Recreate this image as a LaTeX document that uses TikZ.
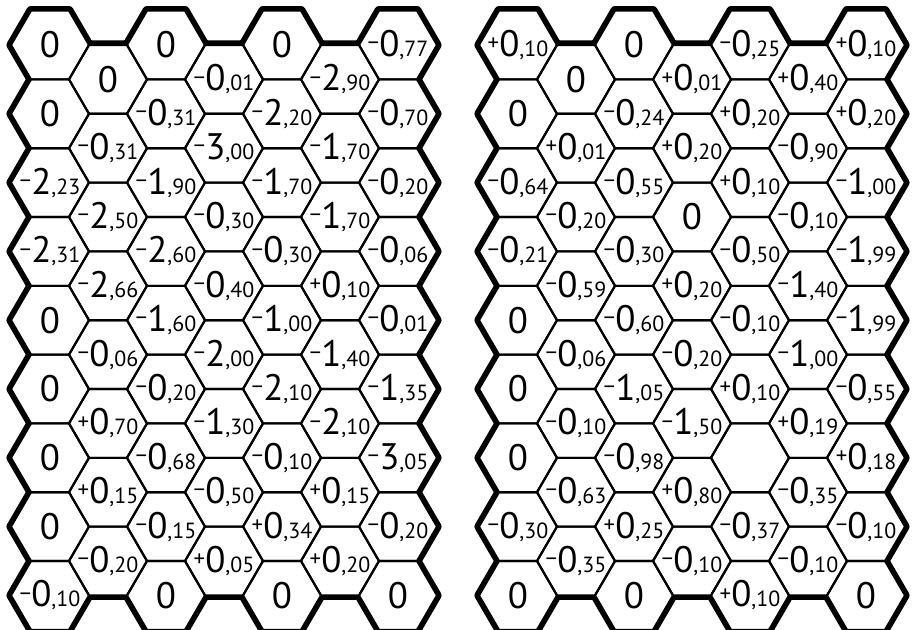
\documentclass[tikz,border=0pt]{standalone}
\usepackage{fontspec}
\setmainfont{PT Sans}
\usetikzlibrary{positioning}

\newcommand\nbig{\fontsize{21}{23}\selectfont}
\newcommand\nsml{\fontsize{12.5}{14}\selectfont}
\newcommand\nsgn{\fontsize{13}{14}\selectfont}
% sign, integer digit, decimals
\newcommand\nv[3]{\raisebox{3.3pt}{\nsgn\if-#1−\else#1\fi}{\nbig#2}{\nsml,#3}}
\newcommand\nz{{\nbig 0}}

% one grid of hexagon cells, 7 columns
\newcommand\hexgrid[2]{%
  \foreach \c in {0,...,6}{
    \pgfmathtruncatemacro\last{8-mod(\c,2)}
    \foreach \r in {0,...,\last}
      \path[#2, shift={({#1+58*\c},{45+34.4*(2*\r+mod(\c,2))})}]
        (-39,0) -- (-19,-34.4) -- (19,-34.4) -- (39,0) -- (19,34.4) -- (-19,34.4) -- cycle;
  }}
% values of one column
\newcommand\gridcol[4]{%
  \foreach \t [count=\k from 0] in {#4}
    \node[val] (#1-\k) at (#2,{#3+68.8*\k}) {\t};}

\begin{document}
\begin{tikzpicture}[
  x=0.02cm,y=-0.02cm,
  rim/.style={draw=black, line width=5.2pt, line join=round},
  blank/.style={fill=white},
  edge/.style={draw=black, line width=1.2pt, line join=round},
  val/.style={inner sep=0pt, font=\nbig}
]
\useasboundingbox (0,0) rectangle (916,629);
\fill[white] (0,0) rectangle (916,629);

% thick outline, then cover the inner halves, then thin edges
\hexgrid{50}{rim}
\hexgrid{518}{rim}
\hexgrid{50}{blank}
\hexgrid{518}{blank}
\hexgrid{50}{edge}
\hexgrid{518}{edge}

% left grid
\gridcol{l0}{50}{45}{\nz, \nz, \nv-2{23}, \nv-2{31}, \nz, \nz, \nz, \nz, \nv-0{10}}
\gridcol{l1}{108}{79.4}{\nz, \nv-0{31}, \nv-2{50}, \nv-2{66}, \nv-0{06}, \nv+0{70}, \nv+0{15}, \nv-0{20}}
\gridcol{l2}{166}{45}{\nz, \nv-0{31}, \nv-1{90}, \nv-2{60}, \nv-1{60}, \nv-0{20}, \nv-0{68}, \nv-0{15}, \nz}
\gridcol{l3}{224}{79.4}{\nv-0{01}, \nv-3{00}, \nv-0{30}, \nv-0{40}, \nv-2{00}, \nv-1{30}, \nv-0{50}, \nv+0{05}}
\gridcol{l4}{282}{45}{\nz, \nv-2{20}, \nv-1{70}, \nv-0{30}, \nv-1{00}, \nv-2{10}, \nv-0{10}, \nv+0{34}, \nz}
\gridcol{l5}{340}{79.4}{\nv-2{90}, \nv-1{70}, \nv-1{70}, \nv+0{10}, \nv-1{40}, \nv-2{10}, \nv+0{15}, \nv+0{20}}
\gridcol{l6}{398}{45}{\nv-0{77}, \nv-0{70}, \nv-0{20}, \nv-0{06}, \nv-0{01}, \nv-1{35}, \nv-3{05}, \nv-0{20}, \nz}

% right grid
\gridcol{r0}{518}{45}{\nv+0{10}, \nz, \nv-0{64}, \nv-0{21}, \nz, \nz, \nz, \nv-0{30}, \nz}
\gridcol{r1}{576}{79.4}{\nz, \nv+0{01}, \nv-0{20}, \nv-0{59}, \nv-0{06}, \nv-0{10}, \nv-0{63}, \nv-0{35}}
\gridcol{r2}{634}{45}{\nz, \nv-0{24}, \nv-0{55}, \nv-0{30}, \nv-0{60}, \nv-1{05}, \nv-0{98}, \nv+0{25}, \nz}
\gridcol{r3}{692}{79.4}{\nv+0{01}, \nv+0{20}, \nz, \nv+0{20}, \nv-0{20}, \nv-1{50}, \nv+0{80}, \nv-0{10}}
\gridcol{r4}{750}{45}{\nv-0{25}, \nv+0{20}, \nv+0{10}, \nv-0{50}, \nv-0{10}, \nv+0{10}, {}, \nv-0{37}, \nv+0{10}}
\gridcol{r5}{808}{79.4}{\nv+0{40}, \nv-0{90}, \nv-0{10}, \nv-1{40}, \nv-1{00}, \nv+0{19}, \nv-0{35}, \nv-0{10}}
\gridcol{r6}{866}{45}{\nv+0{10}, \nv+0{20}, \nv-1{00}, \nv-1{99}, \nv-1{99}, \nv-0{55}, \nv+0{18}, \nv-0{10}, \nz}
\end{tikzpicture}
\end{document}
